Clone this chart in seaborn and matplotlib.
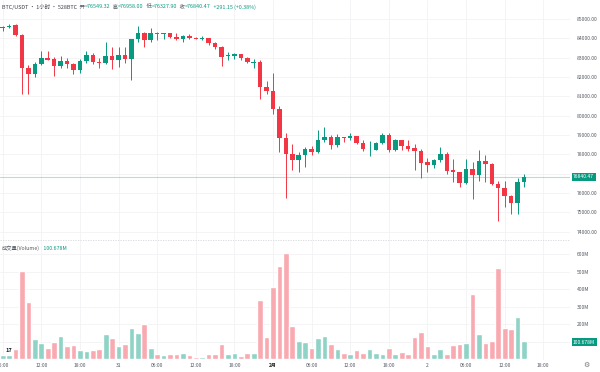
import numpy as np
import pandas as pd
import matplotlib
matplotlib.use("Agg")
import matplotlib.pyplot as plt
import seaborn as sns

# hourly candles, BTC/USDT, starting 06:00 on the 30th
opens = [84520, 84570, 84690, 84173, 82449, 82138, 82656, 82966, 82914, 82587, 82828,
         82673, 82362, 82828, 83138, 82793, 82742, 83104, 82880, 83138, 82931,
         83950, 84259, 83914, 84293, 84207, 84259, 84052, 83966, 84121, 84035,
         83983, 84000, 83776, 83535, 83069, 83104, 83173, 83000, 82742, 82793, 81500,
         81276, 80345, 78863, 78000, 77708, 77966, 78276, 78138, 78725, 78870,
         78483, 78880, 78828, 78949, 78590, 78250, 78242, 78570, 79000, 78224, 78720,
         78420, 78310, 78190, 77587, 77466, 77708, 78000, 77173, 77069, 76500,
         77225, 76932, 77656, 77483, 76449, 76276, 75846, 75466, 76549.32]
highs = [84640, 84724, 84724, 84207, 82621, 82793, 83345, 83345, 83035, 83069, 83000,
         82707, 82914, 83345, 83224, 82966, 83828, 83569, 83569, 83569, 83990,
         84620, 84345, 84517, 84345, 84293, 84293, 84259, 84173, 84207, 84070,
         84120, 84035, 83793, 83604, 83276, 83224, 83190, 83052, 82931, 82880, 81793,
         82190, 80518, 79087, 78540, 78104, 78380, 78449, 79259, 79397, 79000,
         79052, 78914, 79087, 78966, 78742, 78690, 78656, 79087, 79087, 78794, 78742,
         78742, 78518, 78259, 77794, 77760, 78400, 78138, 77742, 77104, 77759,
         77621, 78224, 77966, 77535, 76621, 76621, 75897, 76794, 76958.00]
lows = [84380, 84517, 84140, 81104, 81138, 82017, 82621, 82880, 82052, 82483, 82449,
        82138, 82190, 82707, 82656, 82449, 82656, 82414, 82535, 82707, 81870,
        83830, 83569, 83828, 83914, 83948, 84000, 83914, 83828, 83966, 83966,
        83914, 83655, 83431, 82587, 82880, 82914, 82880, 82707, 82483, 80845, 81104,
        80100, 78139, 75725, 77190, 77104, 77363, 77966, 78052, 78621, 78276,
        78397, 78656, 78742, 78535, 78173, 77931, 78224, 78518, 78139, 78173, 78224,
        78173, 77190, 76760, 77069, 77311, 77621, 76966, 76587, 76328, 76449,
        75673, 76621, 76587, 76414, 74570, 75294, 74897, 74915, 76327.90]
closes = [84570, 84655, 84173, 82449, 82138, 82656, 82966, 82897, 82587, 82828, 82673,
          82362, 82828, 83138, 82793, 82742, 83104, 82880, 83138, 82931, 83950,
          84259, 83914, 84259, 84207, 84259, 84052, 83966, 84121, 84000, 83983,
          84035, 83776, 83535, 83052, 83138, 83173, 83000, 82759, 82793, 81466, 81276,
          80345, 78863, 78000, 77708, 77966, 78276, 78138, 78725, 78870, 78483,
          78880, 78828, 78949, 78590, 78259, 78300, 78570, 79000, 78224, 78720, 78420,
          78250, 78190, 77570, 77466, 77708, 78000, 77150, 77069, 76500, 77225,
          76932, 77656, 77483, 76449, 76242, 75846, 75466, 76549, 76840.47]
volumes = [23, 23, 57, 503, 324, 114, 90, 61, 95, 131, 74, 80, 51, 46, 51, 57, 143, 120, 74, 86, 179,
           150, 198, 63, 31, 23, 27, 31, 34, 23, 13, 13, 29, 31, 88, 31, 34, 17, 34, 34, 337, 124,
           413, 533, 607, 188, 103, 99, 63, 118, 131, 84, 55, 34, 27, 51, 34, 57, 34, 30, 61, 32, 38,
           29, 124, 152, 76, 31, 55, 27, 80, 88, 90, 370, 145, 90, 103, 518, 175, 171, 240, 100.678]

tick_pos = [0, 6, 12, 18, 24, 30, 36, 42, 48, 54, 60, 66, 72, 78, 84]
tick_labels = ["06:00", "12:00", "18:00", "31", "06:00", "12:00", "18:00", "2月",
               "06:00", "12:00", "18:00", "2", "06:00", "12:00", "18:00"]
price_ticks = list(range(74000, 86000, 1000))
vol_ticks = [100, 200, 300, 400, 500, 600]

UP, DOWN = "#089981", "#F23645"
UP_V, DOWN_V = "#8FD3C7", "#F9A9B0"
GRID = "#f2f3f5"
TXT = "#555a63"

sns.set_style("white")
plt.rcParams['font.family'] = ['Noto Sans CJK SC', 'DejaVu Sans']

df = pd.DataFrame({"open": opens, "high": highs, "low": lows,
                   "close": closes, "volume": volumes})
df["idx"] = np.arange(len(df))
df["up"] = df["close"] >= df["open"]

fig = plt.figure(figsize=(6, 3.72), dpi=100)
axp = fig.add_axes([0, 132 / 372, 570 / 600, 240 / 372])
axv = fig.add_axes([0, 12 / 372, 570 / 600, 120 / 372], sharex=axp)

# candles
cols = np.where(df["up"], UP, DOWN)
axp.vlines(df["idx"], df["low"], df["high"], colors=cols, lw=0.7, zorder=2)
body_bot = np.minimum(df["open"], df["close"])
body_h = np.maximum((df["close"] - df["open"]).abs(), 25)
axp.bar(df["idx"], body_h, bottom=body_bot, width=0.7, color=cols, lw=0, zorder=3)
axp.axhline(closes[-1], color=UP, alpha=0.3, lw=0.8, zorder=1)

# volume
sns.barplot(data=df, x="idx", y="volume", hue="up", palette={True: UP_V, False: DOWN_V},
            dodge=False, native_scale=True, width=0.88, saturation=1, errorbar=None,
            legend=False, ax=axv, zorder=2)

axp.set_xlim(-0.42, 88.15)
axp.set_ylim(73567, 85983)
axv.set_ylim(-5, 680)

for ax in (axp, axv):
    for s in ax.spines.values():
        s.set_visible(False)
    ax.yaxis.tick_right()
    ax.tick_params(axis="y", length=0, pad=5, labelsize=3.6, labelcolor=TXT)
    ax.set_xticks(tick_pos)
    ax.grid(True, color=GRID, lw=0.6, zorder=0)
    ax.set_axisbelow(True)
    ax.set_xlabel("")
    ax.set_ylabel("")

# labels hidden under the last-value tags are left blank
last_p, last_v = closes[-1], volumes[-1]
axp.set_yticks(price_ticks)
axp.set_yticklabels(["" if abs(v - last_p) < 300 else f"{v:.2f}" for v in price_ticks])
axp.tick_params(axis="x", labelbottom=False, length=0)
axv.set_yticks(vol_ticks)
axv.set_yticklabels(["" if abs(v - last_v) < 20 else f"{v}M" for v in vol_ticks])
axv.set_xticklabels(tick_labels)
axv.tick_params(axis="x", length=0, pad=2, labelsize=3.6, labelcolor=TXT)
for t in axv.get_xticklabels():
    if t.get_text() == "2月":
        t.set_fontweight("bold")
        t.set_color("#222222")
axv.axhline(680, ls=(0, (1.5, 1.5)), color="#d4d6da", lw=0.6, clip_on=False)

# header pieces laid out one after another
renderer = fig.canvas.get_renderer()


def chain(pieces, x, y, size):
    for s, c in pieces:
        t = fig.text(x / 600, 1 - y / 372, s, color=c, fontsize=size, va="center", ha="left")
        x = t.get_window_extent(renderer).x1


chain([("BTC/USDT · 1小时 · 528BTC", "#3a3e46"), ("  开", TXT), ("=76549.32", UP),
       ("  高", TXT), ("=76958.00", UP), ("  低", TXT), ("=76327.90", UP),
       ("  收", TXT), ("=76840.47", UP), ("  +291.15 (+0.38%)", UP)], 2, 7, 3.9)
chain([("成交量(Volume)", TXT), ("   100.678M", UP)], 2, 248, 3.8)

# last-value tags on the right scale
box = dict(boxstyle="square,pad=0.3", fc=UP, ec="none")
fig.text(573 / 600, 1 - 177 / 372, f"{last_p:.2f}", color="white", fontsize=3.6,
         va="center", ha="left", bbox=box)
fig.text(573 / 600, 1 - 342 / 372, f"{last_v:.3f}M", color="white", fontsize=3.6,
         va="center", ha="left", bbox=box)
fig.text(586 / 600, 1 - 365 / 372, "⚙", color="#777", fontsize=5, va="center", ha="center")
fig.text(9 / 600, 1 - 350 / 372, "17", color="#131722", fontsize=4, fontweight="bold",
         va="center", ha="center")

fig.savefig("out.png", dpi=100)
